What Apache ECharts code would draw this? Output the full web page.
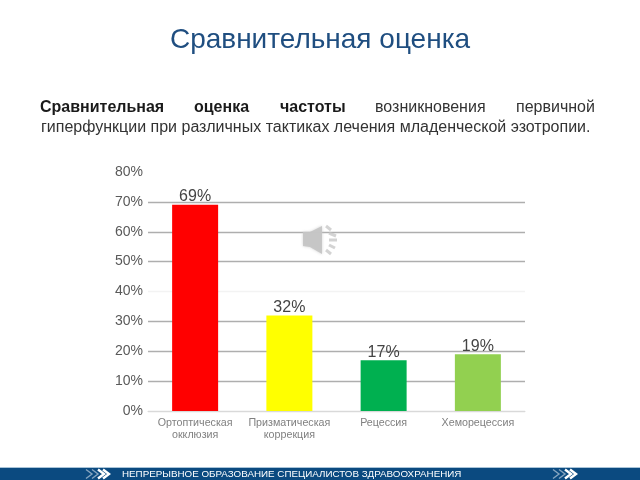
<!DOCTYPE html>
<html><head><meta charset="utf-8">
<script src="https://cdn.jsdelivr.net/npm/echarts@6/dist/echarts.min.js"></script>
<style>html,body{margin:0;padding:0;background:#fff}#c{width:640px;height:480px}</style>
</head><body><div id="c"></div>
<script>
const categories = ['Ортоптическая\nокклюзия','Призматическая\nкоррекция','Рецессия','Хеморецессия'];
const values = [69,32,17,19];
const barColors = ['#ff0000','#ffff00','#00b050','#92d050'];
const title = 'Сравнительная оценка';
const footer = 'НЕПРЕРЫВНОЕ ОБРАЗОВАНИЕ СПЕЦИАЛИСТОВ ЗДРАВООХРАНЕНИЯ';
const line1 = [['Сравнительная',40,true],['оценка',194,true],['частоты',280,true],['возникновения',375,false],['первичной',516,false]];
const line2 = 'гиперфункции при различных тактиках лечения младенческой эзотропии.';
const gridColors = ['#d9d9d9','#aeaeae','#aeaeae','#aeaeae','#f3f3f3','#aeaeae','#aeaeae','#aeaeae','#ffffff'];
const font = '"Liberation Sans", Arial, sans-serif';

const chevrons = x => [0,6,12,17].map((d,i)=>({
  type:'polyline', z:12,
  shape:{points:[[x+d,469.5],[x+d+6,474],[x+d,478.5]]},
  style:{fill:'none',stroke:'#ffffff',lineWidth:i>=2?2.4:1.4,opacity:i>=2?1:0.5}
}));
const waves = [[326,226,331,230],[329,233,336,236],[329,240,337,240],[329,245,335,248],[326,250,331,254]].map(p=>({
  type:'line', z:12, shape:{x1:p[0],y1:p[1],x2:p[2],y2:p[3]},
  style:{stroke:'#c4c4c4',lineWidth:3,opacity:0.75}
}));

const graphic = [
  {type:'text',left:'center',top:26,style:{text:title,font:'28px '+font,fill:'#1f4e80'}},
  ...line1.map(w=>({type:'text',x:w[1],y:99.5,style:{text:w[0],font:(w[2]?'bold ':'')+'16px '+font,fill:w[2]?'#1a1a1a':'#333333'}})),
  {type:'text',x:41,y:119.5,style:{text:line2,font:'16px '+font,fill:'#333333'}},
  {type:'rect',z:10,shape:{x:0,y:468,width:640,height:12},style:{fill:'#0b4a80'}},
  {type:'rect',z:10,shape:{x:0,y:467,width:640,height:1},style:{fill:'#a9c4d8'}},
  {type:'text',z:12,x:122,y:469,style:{text:footer,font:'9.8px '+font,fill:'#ffffff'}},
  ...chevrons(86),...chevrons(553),
  {type:'polygon',z:12,shape:{points:[[303,232],[310,232],[322,226],[322,254],[310,247],[303,246]]},style:{fill:'#c4c4c4',opacity:0.9,shadowBlur:3,shadowColor:'#cccccc'}},
  ...waves
];

const chart = echarts.init(document.getElementById('c'),null,{renderer:'canvas'});
chart.setOption({
  animation:false,
  backgroundColor:'#fff',
  grid:{left:148,top:172,width:377,height:239,containLabel:false},
  xAxis:{type:'category',data:categories,
    axisLine:{lineStyle:{color:'#d9d9d9',width:1}},axisTick:{show:false},
    axisLabel:{color:'#808080',fontSize:10.7,fontFamily:font,margin:6,lineHeight:12,interval:0}},
  yAxis:{type:'value',min:0,max:80,interval:10,
    axisLine:{show:false},axisTick:{show:false},
    axisLabel:{color:'#595959',fontSize:14,fontFamily:font,margin:5,padding:[2,0,0,0],formatter:'{value}%'},
    splitLine:{lineStyle:{color:gridColors,width:1.3}}},
  series:[{type:'bar',barWidth:46,
    data:values.map((v,i)=>({value:v,itemStyle:{color:barColors[i]}})),
    label:{show:true,position:'top',distance:0,formatter:'{c}%',color:'#444444',fontSize:16,fontFamily:font}}],
  graphic
});
</script></body></html>
